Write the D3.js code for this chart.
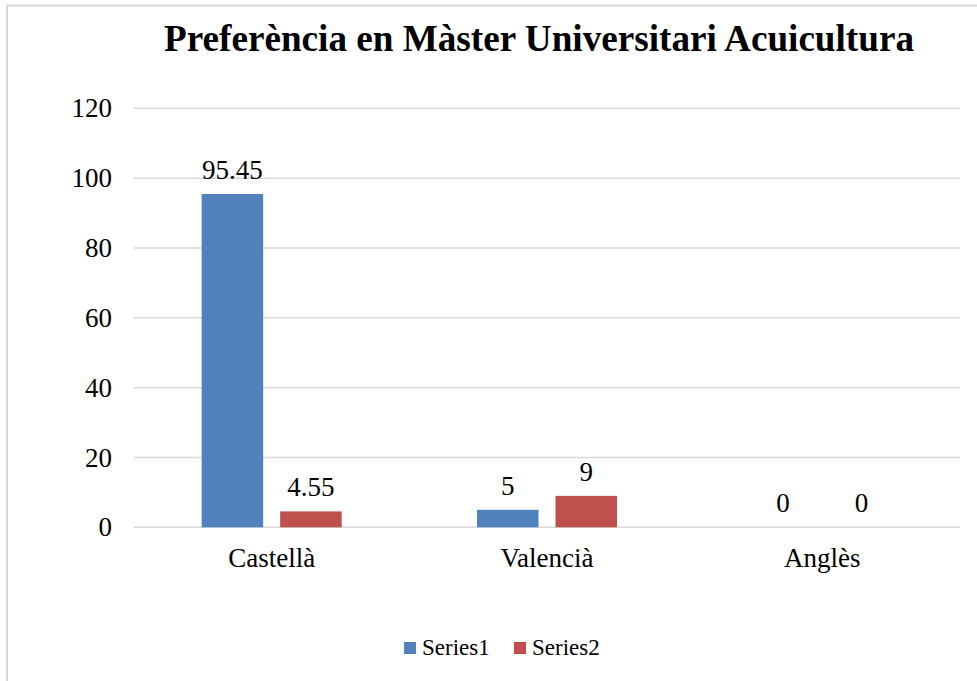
<!DOCTYPE html>
<html><head><meta charset="utf-8">
<script src="https://cdn.jsdelivr.net/npm/d3@7"></script>
<style>body{margin:0;background:#fff}svg{display:block}</style>
</head><body>
<script>
const categories = ["Castellà", "Valencià", "Anglès"];
const seriesNames = ["Series1", "Series2"];
const series1 = [95.45, 5, 0];
const series2 = [4.55, 9, 0];
const yTicks = [0, 20, 40, 60, 80, 100, 120];
const colors = ["#4F81BD", "#C0504D"];
const title = "Preferència en Màster Universitari Acuicultura";

const W = 977, H = 681;
const font = "'Liberation Serif','Times New Roman',serif";
const svg = d3.select("body").append("svg").attr("width", W).attr("height", H);

// frame
svg.append("rect").attr("x", 7).attr("y", 5.5).attr("width", W + 10).attr("height", H + 10)
  .attr("fill", "none").attr("stroke", "#D9D9D9").attr("stroke-width", 2);

const y = d3.scaleLinear().domain([0, 120]).range([527.3, 108.3]);
const x0 = d3.scaleBand().domain(categories).range([134, 960]);
const step = x0.bandwidth();
const x1 = d3.scaleBand().domain(seriesNames)
  .range([step / 2 - 70, step / 2 + 70]).paddingInner(17 / 78.5);

// gridlines
svg.append("g").selectAll("line").data(yTicks).join("line")
  .attr("x1", 134).attr("x2", 960)
  .attr("y1", d => y(d)).attr("y2", d => y(d))
  .attr("stroke", "#D9D9D9").attr("stroke-width", 1.5);

// y tick labels
svg.append("g").selectAll("text").data(yTicks).join("text")
  .attr("x", 112).attr("y", d => y(d)).attr("dy", "0.34em")
  .attr("text-anchor", "end").attr("font-family", font).attr("font-size", 27)
  .attr("fill", "#000").text(d => d);

const data = categories.map((c, i) => ({cat: c, vals: [series1[i], series2[i]]}));

const groups = svg.append("g").selectAll("g").data(data).join("g")
  .attr("transform", d => `translate(${x0(d.cat)},0)`);

groups.selectAll("rect").data(d => d.vals.map((v, j) => ({s: seriesNames[j], v, j}))).join("rect")
  .attr("x", d => x1(d.s)).attr("width", x1.bandwidth())
  .attr("y", d => y(d.v)).attr("height", d => y(0) - y(d.v))
  .attr("fill", d => colors[d.j]);

groups.selectAll("text").data(d => d.vals.map((v, j) => ({s: seriesNames[j], v, j}))).join("text")
  .attr("x", d => x1(d.s) + x1.bandwidth() / 2).attr("y", d => y(d.v) - 15)
  .attr("text-anchor", "middle").attr("font-family", font).attr("font-size", 27)
  .attr("fill", "#000").text(d => d.v);

// category labels
svg.append("g").selectAll("text").data(categories).join("text")
  .attr("x", d => x0(d) + step / 2).attr("y", 567)
  .attr("text-anchor", "middle").attr("font-family", font).attr("font-size", 27)
  .attr("fill", "#000").text(d => d);

// title
svg.append("text").attr("x", 164).attr("y", 51)
  .attr("font-family", font).attr("font-weight", "bold").attr("font-size", 37)
  .attr("textLength", 750).attr("lengthAdjust", "spacingAndGlyphs")
  .attr("fill", "#000").text(title);

// legend
const legX = [404, 514];
const leg = svg.append("g").selectAll("g").data(seriesNames).join("g")
  .attr("transform", (d, i) => `translate(${legX[i]},642)`);
leg.append("rect").attr("width", 12).attr("height", 12).attr("fill", (d, i) => colors[i]);
leg.append("text").attr("x", 18).attr("y", 13)
  .attr("font-family", font).attr("font-size", 23).attr("fill", "#000").text(d => d);
</script>
</body></html>
